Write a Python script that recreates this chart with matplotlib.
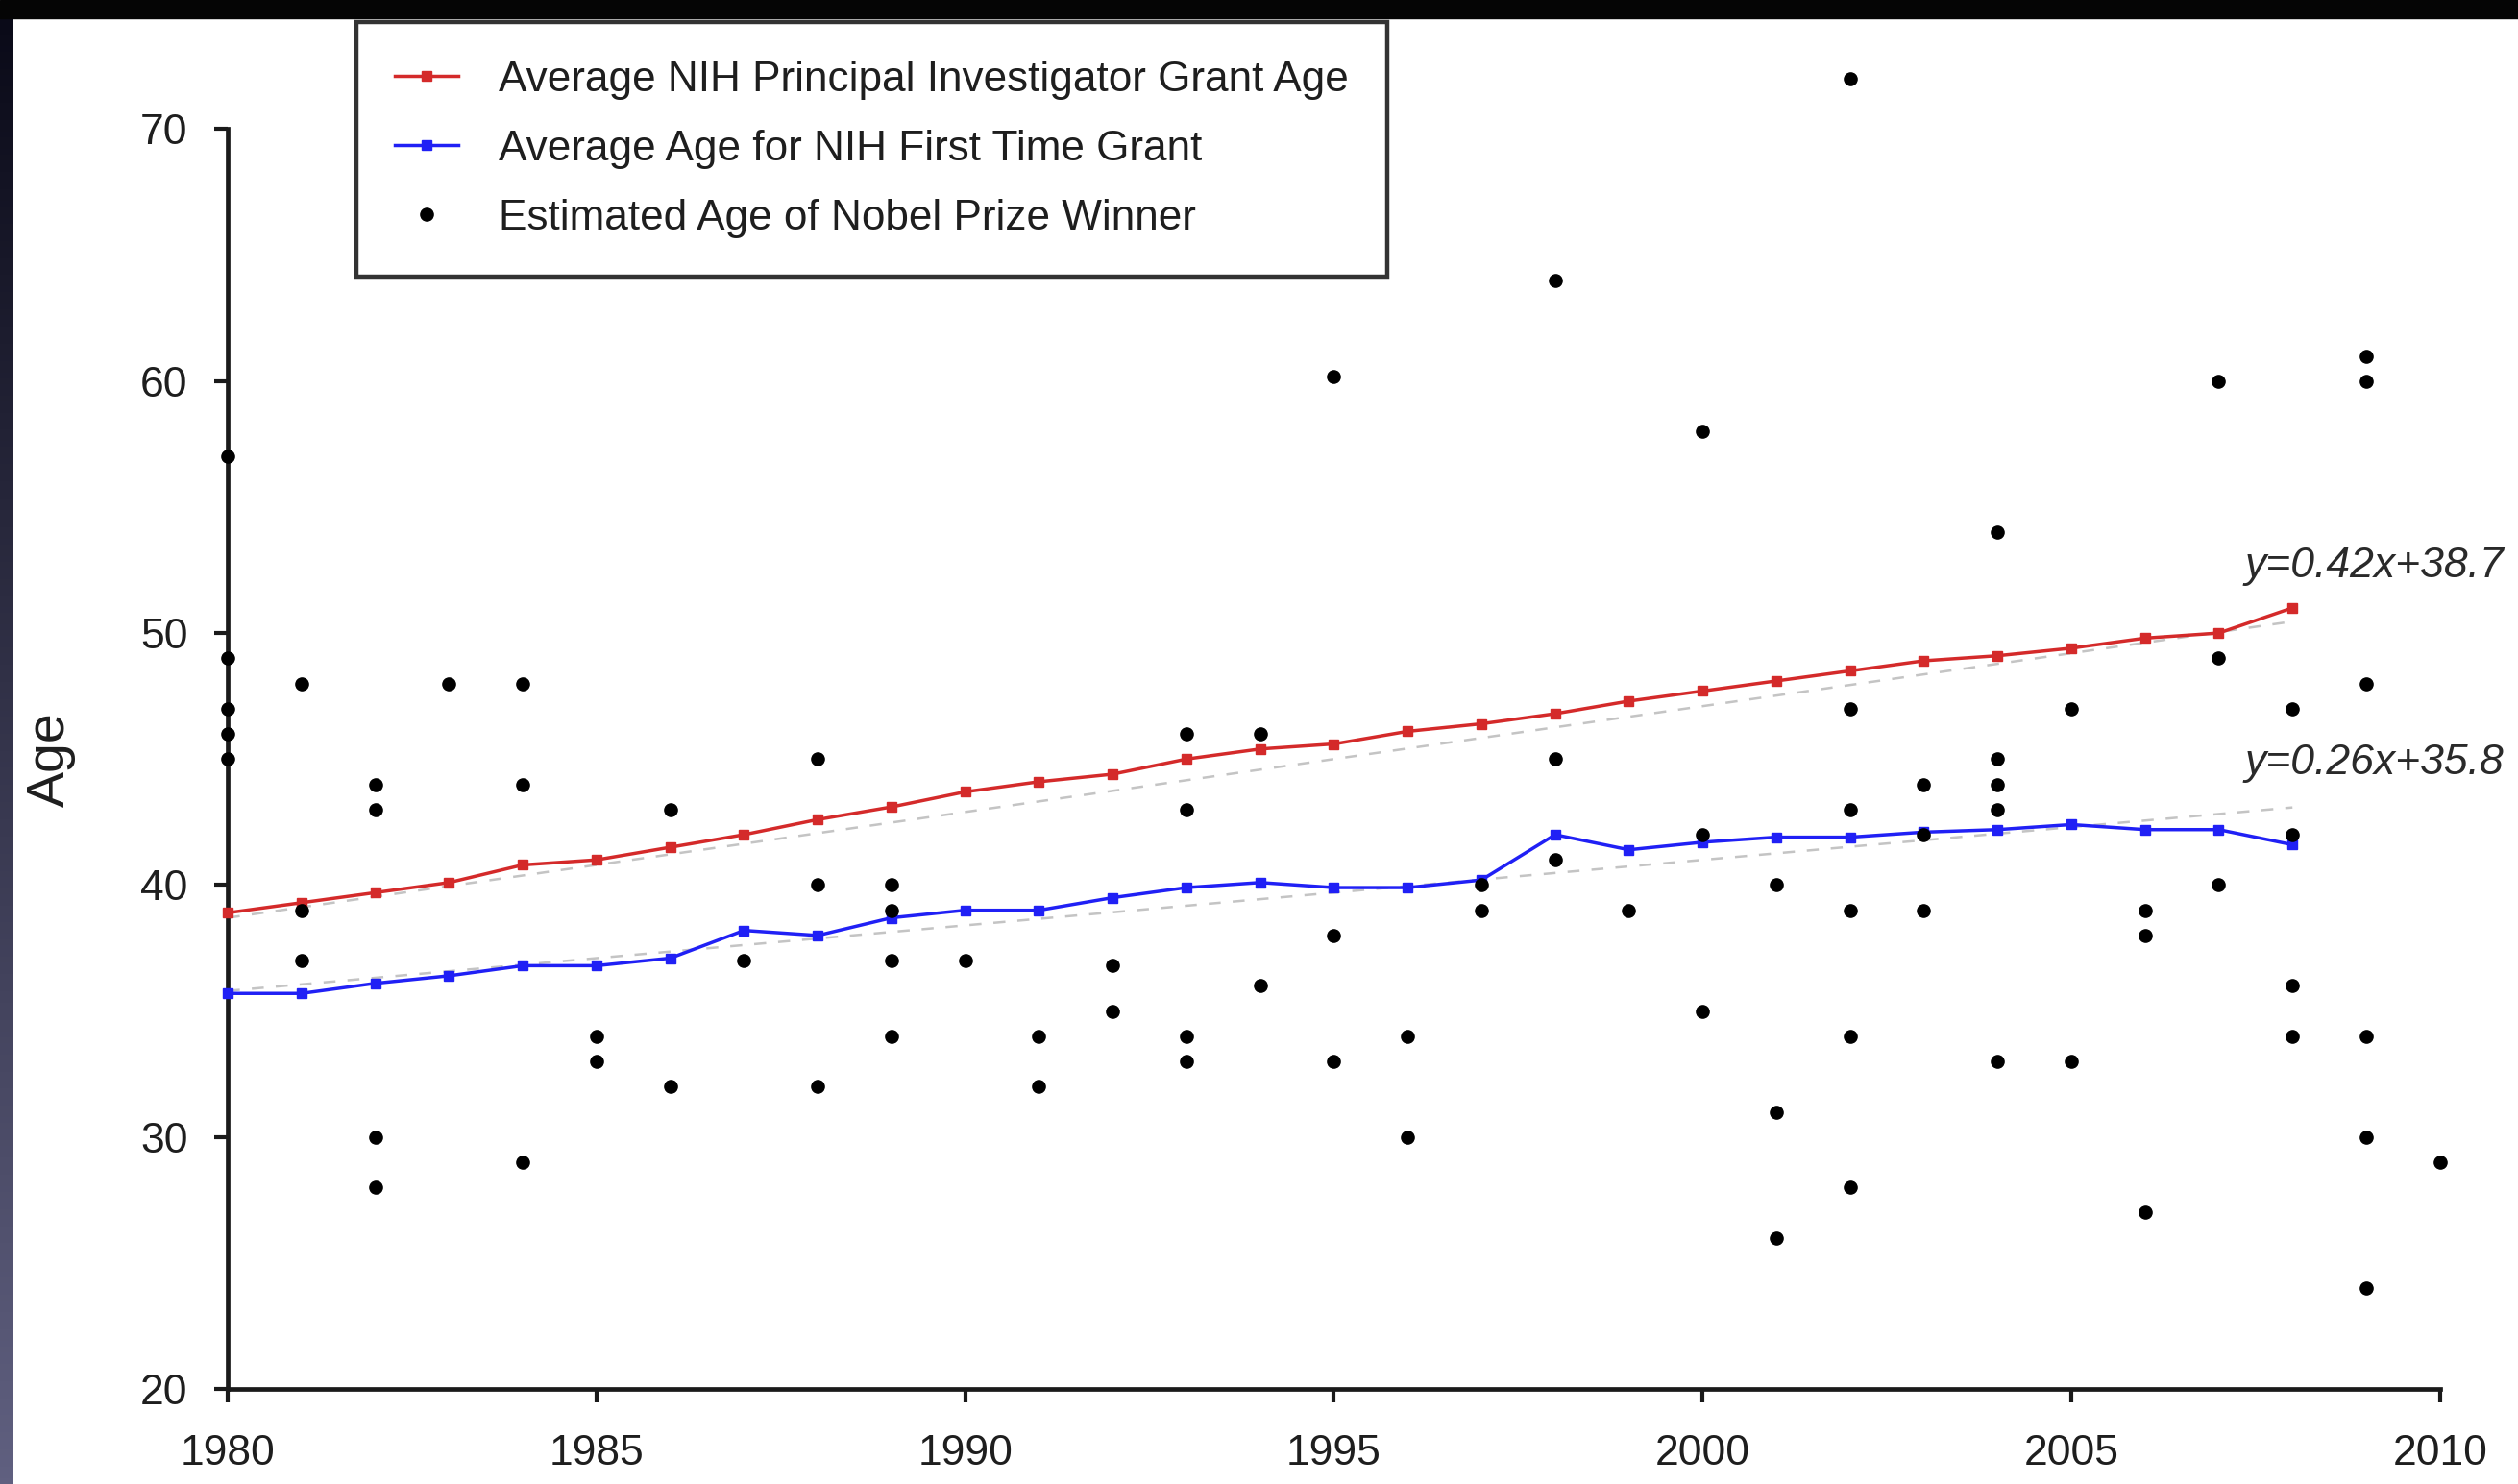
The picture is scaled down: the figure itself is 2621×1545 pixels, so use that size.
import numpy as np
import matplotlib
matplotlib.use("Agg")
import matplotlib.pyplot as plt

plt.rcParams['font.family'] = ['Liberation Sans', 'DejaVu Sans']

years = np.arange(1980, 2009)
pi_age = [38.9, 39.3, 39.7, 40.1, 40.8, 41.0, 41.5, 42.0, 42.6, 43.1,
          43.7, 44.1, 44.4, 45.0, 45.4, 45.6, 46.1, 46.4, 46.8, 47.3,
          47.7, 48.1, 48.5, 48.9, 49.1, 49.4, 49.8, 50.0, 51.0]
first_age = [35.7, 35.7, 36.1, 36.4, 36.8, 36.8, 37.1, 38.2, 38.0, 38.7,
             39.0, 39.0, 39.5, 39.9, 40.1, 39.9, 39.9, 40.2, 42.0, 41.4,
             41.7, 41.9, 41.9, 42.1, 42.2, 42.4, 42.2, 42.2, 41.6]

nobel_years = [1980, 1980, 1980, 1980, 1980,
               1981, 1981, 1981,
               1982, 1982, 1982, 1982,
               1983,
               1984, 1984, 1984,
               1985, 1985,
               1986, 1986,
               1987,
               1988, 1988, 1988,
               1989, 1989, 1989, 1989,
               1990,
               1991, 1991,
               1992, 1992,
               1993, 1993, 1993, 1993,
               1994, 1994,
               1995, 1995, 1995,
               1996, 1996,
               1997, 1997,
               1998, 1998, 1998,
               1999,
               2000, 2000, 2000,
               2001, 2001, 2001,
               2002, 2002, 2002, 2002, 2002, 2002,
               2003, 2003, 2003,
               2004, 2004, 2004, 2004, 2004,
               2005, 2005,
               2006, 2006, 2006,
               2007, 2007, 2007,
               2008, 2008, 2008, 2008,
               2009, 2009, 2009, 2009, 2009, 2009,
               2010]
nobel_ages = [57, 49, 47, 46, 45,
              48, 39, 37,
              44, 43, 30, 28,
              48,
              48, 44, 29,
              34, 33,
              43, 32,
              37,
              45, 40, 32,
              40, 39, 37, 34,
              37,
              34, 32,
              36.8, 35,
              46, 43, 34, 33,
              46, 36,
              60.2, 38, 33,
              34, 30,
              40, 39,
              64, 45, 41,
              39,
              58, 42, 35,
              40, 31, 26,
              72, 47, 43, 39, 34, 28,
              44, 42, 39,
              54, 45, 44, 43, 33,
              47, 33,
              39, 38, 27,
              60, 49, 40,
              47, 42, 36, 34,
              61, 60, 48, 34, 30, 24,
              29]

fit_slopes = [0.42, 0.26]
fit_intercepts = [38.7, 35.8]
fit_labels = ["y=0.42x+38.7", "y=0.26x+35.8"]
fit_label_pos = [(2007.35, 52.2), (2007.35, 44.4)]

fig = plt.figure(figsize=(26.21, 15.45), dpi=100)
ax = fig.add_axes([0.0905, 0.064, 0.8785, 0.849])

# trend lines
xs = years - 1980
for s, b in zip(fit_slopes, fit_intercepts):
    ax.plot(years, s * xs + b, color="#c4c4c4", lw=1.8, ls=(0, (5, 5)), zorder=1)

ax.plot(years, pi_age, color="#d42a2a", lw=2.5, marker="s", ms=7,
        label="Average NIH Principal Investigator Grant Age", zorder=3, clip_on=False)
ax.plot(years, first_age, color="#2020f5", lw=2.5, marker="s", ms=7,
        label="Average Age for NIH First Time Grant", zorder=3, clip_on=False)
ax.plot(nobel_years, nobel_ages, ls="none", marker="o", ms=9.5, color="black",
        label="Estimated Age of Nobel Prize Winner", zorder=4, clip_on=False)

for txt, (tx, ty) in zip(fit_labels, fit_label_pos):
    ax.text(tx, ty, txt, fontsize=32, style="italic", color="#2a2a2a", clip_on=False)

ax.set_xlim(1980, 2010)
ax.set_ylim(20, 70)
ax.set_xticks(range(1980, 2011, 5))
ax.set_yticks(range(20, 71, 10))
for sp in ["top", "right"]:
    ax.spines[sp].set_visible(False)
for sp in ["left", "bottom"]:
    ax.spines[sp].set_linewidth(3.4)
    ax.spines[sp].set_color("#1a1a1a")
ax.tick_params(axis="both", direction="out", length=10, width=3, color="#1a1a1a",
               labelsize=32, labelcolor="#1e1e1e")
ax.tick_params(axis="y", pad=20)
ax.tick_params(axis="x", pad=24)
ax.set_ylabel("Age", fontsize=40, color="#1e1e1e", labelpad=48)

leg = fig.legend(loc="upper left", bbox_to_anchor=(0.1416, 0.985), fontsize=31.8,
                 frameon=True, fancybox=False, edgecolor="black", borderaxespad=0,
                 borderpad=0.9, labelspacing=0.7, handlelength=1.5, handletextpad=0.95)
leg.get_frame().set_linewidth(3.2)
for t in leg.get_texts():
    t.set_color("#1e1e1e")

# dark frame around the screenshot
fig.patches.append(plt.Rectangle((0, 0.988), 1, 0.012, transform=fig.transFigure,
                                 color="#050505", zorder=10))
strip = fig.add_axes([0, 0, 0.0052, 0.988])
grad = np.linspace(0, 1, 256).reshape(-1, 1)
strip.imshow(grad, aspect="auto", cmap=matplotlib.colors.LinearSegmentedColormap.from_list(
    "s", ["#606080", "#0a0a18"]), origin="lower")
strip.axis("off")

fig.savefig("out.png", dpi=100)
